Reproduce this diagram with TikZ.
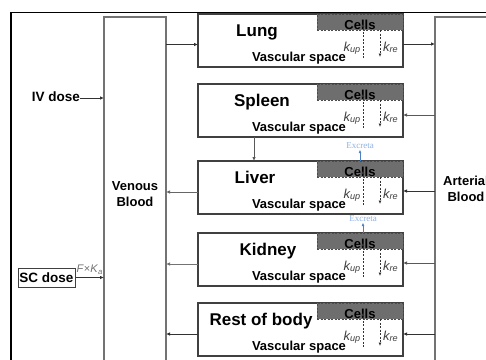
\documentclass[tikz,border=0pt]{standalone}
\usepackage{fontspec}
\setmainfont{Liberation Sans}
\newfontfamily\serifx{Liberation Serif}
\usetikzlibrary{arrows.meta}
\definecolor{exctext}{rgb}{0.56,0.70,0.89}
\definecolor{excarrow}{rgb}{0.30,0.50,0.78}
\tikzset{
  outerframe/.style={draw=black, line width=1.4pt, anchor=north west, inner sep=0pt, outer sep=0pt, minimum width=600pt, minimum height=500pt},
  bloodbox/.style={draw=black!55, line width=1.4pt, anchor=north west, inner sep=0pt, outer sep=0pt, minimum width=62pt, minimum height=400pt},
  organbx/.style={draw=black!75, line width=1.1pt, fill=white, anchor=north west, minimum width=205pt, minimum height=53pt, inner sep=0pt, outer sep=0pt},
  cellbox/.style={draw=black!70, dash pattern=on 2pt off 1.5pt, line width=0.8pt, fill=black!57, anchor=north west, minimum width=86pt, minimum height=16pt, inner sep=0pt, outer sep=0pt},
  flow/.style={-{Latex[length=4pt,width=3.5pt]}, line width=0.8pt, draw=black!80},
  kdash/.style={-{Latex[length=3.5pt,width=3pt]}, dash pattern=on 2pt off 1.5pt, line width=0.7pt, draw=black!80},
  oname/.style={font=\bfseries\fontsize{17}{17}\selectfont, anchor=base, inner sep=0pt},
  vspace/.style={font=\bfseries\fontsize{13}{13}\selectfont, anchor=base, inner sep=0pt},
  celltext/.style={font=\bfseries\fontsize{13}{13}\selectfont, anchor=base, inner sep=0pt},
  klab/.style={font=\fontsize{13}{13}\selectfont, text=black!75, inner sep=0pt},
  blab/.style={font=\bfseries\fontsize{13}{16}\selectfont, align=center, inner sep=0pt},
  dosetext/.style={font=\bfseries\fontsize{13.5}{13.5}\selectfont, inner sep=0pt},
  excr/.style={font=\serifx\fontsize{9}{9}\selectfont, text=exctext, inner sep=0.5pt},
  exarr/.style={-{Latex[length=3.5pt,width=3pt]}, line width=0.8pt, draw=excarrow}
}
\newcommand\organbox[4]{%
  \node[organbx] (#1) at (198,#2) {};
  \node[cellbox] (#1c) at (317,#2) {};
  \node[celltext] at (360,#2+15.3) {Cells};
  \node[oname] at (#4,#2+22.5) {#3};
  \node[vspace] at (299,#2+47) {Vascular space};
  \node[klab, anchor=base east] at (361,#2+37) {\textit{k\textsubscript{up}}};
  \node[klab, anchor=base west] at (383,#2+37) {\textit{k\textsubscript{re}}};
  \coordinate (#1u) at (363,#2+44);
  \coordinate (#1d) at (380,#2+43);
  \draw[kdash, shorten >=9.5pt] (#1u) -- (#1u |- #1c.north);
  \draw[kdash] (#1d |- #1c.south) -- (#1d);
}
\begin{document}
\begin{tikzpicture}[x=1pt,y=-1pt]
\useasboundingbox (0,0) rectangle (486,359);
\clip (0,0) rectangle (486,359);
\fill[white] (0,0) rectangle (486,359);
\node[outerframe] (outer) at (11,12.5) {};
\node[bloodbox] (venous) at (104,17) {};
\node[bloodbox] (arterial) at (435,17) {};
\node[blab] (vlab) at (135,194) {Venous\\Blood};
\node[blab] (alab) at (466,189) {Arterial\\Blood};

\organbox{lung}{14}{Lung}{257}
\organbox{spleen}{84}{Spleen}{262}
\organbox{liver}{161}{Liver}{255}
\organbox{kidney}{233}{Kidney}{268}
\organbox{rest}{303}{Rest of body}{261}

% lung
\coordinate (lv) at ([yshift=-4pt]lung.west);
\draw[flow] (lv -| venous.east) -- (lv);
\coordinate (lr) at ([yshift=-3.5pt]lung.east);
\draw[flow] (lr) -- (lr -| arterial.west);
% spleen
\coordinate (sr) at ([yshift=-4.5pt]spleen.east);
\draw[flow, draw=black!65] (sr -| arterial.west) -- (sr);
\coordinate (sl) at ([xshift=56pt]spleen.south west);
\draw[flow, draw=black!65] (sl) -- (sl |- liver.north);
% liver
\coordinate (lir) at ([yshift=-3.5pt]liver.east);
\draw[flow] (lir -| arterial.west) -- (lir);
\coordinate (lil) at ([yshift=-4.5pt]liver.west);
\draw[flow, draw=black!60] (lil) -- (lil -| venous.east);
% kidney
\coordinate (kr) at ([yshift=-3.5pt]kidney.east);
\draw[flow, draw=black!65] (kr -| arterial.west) -- (kr);
\coordinate (kl) at ([yshift=-4.5pt]kidney.west);
\draw[flow, draw=black!55] (kl) -- (kl -| venous.east);
% rest
\coordinate (rr) at ([yshift=-4.5pt]rest.east);
\draw[flow] (rr -| arterial.west) -- (rr);
\coordinate (rl) at ([yshift=-4.5pt]rest.west);
\draw[flow] (rl) -- (rl -| venous.east);

% excreta
\node[excr] (ex1) at (360,146) {Excreta};
\draw[exarr] (ex1 |- liverc.north) -- (ex1.south);
\node[excr] (ex2) at (363,219) {Excreta};
\draw[exarr] (ex2 |- kidneyc.north) -- (ex2.south);

% doses
\node[dosetext, anchor=east] (iv) at (80,97) {IV dose};
\draw[flow] ([yshift=-1pt]iv.east) -- ([yshift=-1pt]iv.east -| venous.west);
\node[dosetext, draw=black!75, line width=1pt, minimum width=57pt, minimum height=19pt] (sc) at (46.5,277.5) {SC dose};
\draw[flow] (sc.east) -- node[above=2.5pt, font=\fontsize{11}{11}\selectfont, text=black!55, inner sep=0pt] {\textit{F}×\textit{K}\textsubscript{\textit{a}}} (sc.east -| venous.west);
\end{tikzpicture}
\end{document}
